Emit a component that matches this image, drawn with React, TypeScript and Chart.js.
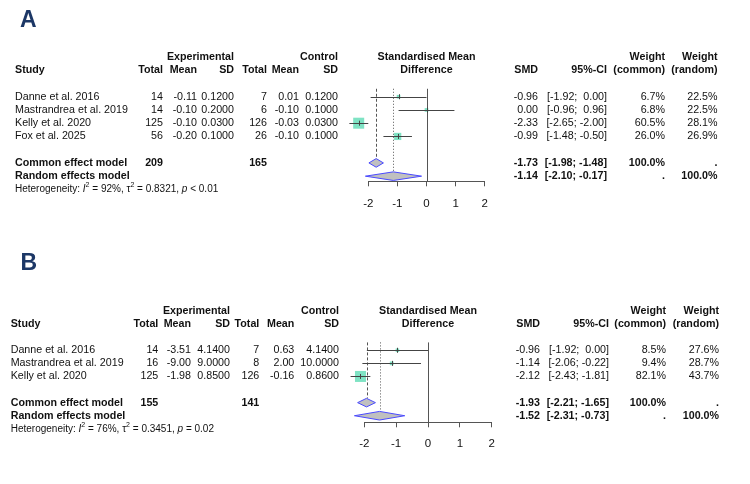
import React, { useEffect, useRef } from 'react';
import { Chart, registerables } from 'chart.js';
Chart.register(...registerables);

// ---------------- Panel A data ----------------
const studiesA = ['Danne et al. 2016', 'Mastrandrea et al. 2019', 'Kelly et al. 2020', 'Fox et al. 2025'];
const expTotalA = [14, 14, 125, 56];
const expMeanA = [-0.11, -0.10, -0.10, -0.20];
const expSDA = [0.12, 0.2, 0.03, 0.1];
const ctrlTotalA = [7, 6, 126, 26];
const ctrlMeanA = [0.01, -0.10, -0.03, -0.10];
const ctrlSDA = [0.12, 0.1, 0.03, 0.1];
const smdA = [-0.96, 0.00, -2.33, -0.99];
const loA = [-1.92, -0.96, -2.65, -1.48];
const hiA = [0.00, 0.96, -2.00, -0.50];
const wCommonA = [6.7, 6.8, 60.5, 26.0];
const wRandomA = [22.5, 22.5, 28.1, 26.9];
const totalsA = [209, 165];
const commonA = [-1.73, -1.98, -1.48];
const randomA = [-1.14, -2.10, -0.17];
const hetA = ['92%', '0.8321', '< 0.01'];

// ---------------- Panel B data ----------------
const studiesB = ['Danne et al. 2016', 'Mastrandrea et al. 2019', 'Kelly et al. 2020'];
const expTotalB = [14, 16, 125];
const expMeanB = [-3.51, -9.00, -1.98];
const expSDB = [4.14, 9.0, 0.85];
const ctrlTotalB = [7, 8, 126];
const ctrlMeanB = [0.63, 2.00, -0.16];
const ctrlSDB = [4.14, 10.0, 0.86];
const smdB = [-0.96, -1.14, -2.12];
const loB = [-1.92, -2.06, -2.43];
const hiB = [0.00, -0.22, -1.81];
const wCommonB = [8.5, 9.4, 82.1];
const wRandomB = [27.6, 28.7, 43.7];
const totalsB = [155, 141];
const commonB = [-1.93, -2.21, -1.65];
const randomB = [-1.52, -2.31, -0.73];
const hetB = ['76%', '0.3451', '= 0.02'];

// axis ticks
const xTicks = [-2, -1, 0, 1, 2];

const FONT = '"Liberation Sans", Arial, Helvetica, sans-serif';
const TXT = '#111';

type Panel = {
  label: string;
  studies: string[];
  expTotal: number[]; expMean: number[]; expSD: number[];
  ctrlTotal: number[]; ctrlMean: number[]; ctrlSD: number[];
  smd: number[]; lo: number[]; hi: number[];
  wCommon: number[]; wRandom: number[];
  totals: number[]; common: number[]; random: number[]; het: string[];
};

const panelA: Panel = {
  label: 'A', studies: studiesA, expTotal: expTotalA, expMean: expMeanA, expSD: expSDA,
  ctrlTotal: ctrlTotalA, ctrlMean: ctrlMeanA, ctrlSD: ctrlSDA, smd: smdA, lo: loA, hi: hiA,
  wCommon: wCommonA, wRandom: wRandomA, totals: totalsA, common: commonA, random: randomA, het: hetA,
};
const panelB: Panel = {
  label: 'B', studies: studiesB, expTotal: expTotalB, expMean: expMeanB, expSD: expSDB,
  ctrlTotal: ctrlTotalB, ctrlMean: ctrlMeanB, ctrlSD: ctrlSDB, smd: smdB, lo: loB, hi: hiB,
  wCommon: wCommonB, wRandom: wRandomB, totals: totalsB, common: commonB, random: randomB, het: hetB,
};

type Layout = {
  chartLeft: number; chartRight: number; L0: number; lineH: number; axisY: number;
  studyX: number; cols: number[]; smdX: number; ciX: number; wcX: number; wrX: number;
  labelX: number; labelY: number; tickPad: number;
};

const layoutA: Layout = {
  chartLeft: 368.3, chartRight: 484.7, L0: 57, lineH: 13.24, axisY: 181.3,
  studyX: 15, cols: [163, 197, 234, 267, 299, 338], smdX: 538, ciX: 607, wcX: 665, wrX: 717.5,
  labelX: 20, labelY: 20.5, tickPad: 10.5,
};
const layoutB: Layout = {
  chartLeft: 364.3, chartRight: 491.7, L0: 69, lineH: 13.09, axisY: 180.3,
  studyX: 10.7, cols: [158.3, 191, 230, 259.3, 294.3, 339], smdX: 540, ciX: 609, wcX: 666, wrX: 719,
  labelX: 20.5, labelY: 21.5, tickPad: 10,
};

const CANVAS_H = 242;
const fmt = (v: number, d: number) => v.toFixed(d);
const fmtCI = (lo: number, hi: number) =>
  '[' + fmt(lo, 2) + ';' + (hi >= 0 ? '  ' : ' ') + fmt(hi, 2) + ']';

function makeChart(canvas: HTMLCanvasElement, p: Panel, lay: Layout) {
  const topL = 2;
  const axisL = (lay.axisY - lay.L0) / lay.lineH;
  const topPx = lay.L0 + topL * lay.lineH;
  const axisH = 5 + 2 * lay.tickPad + 11.5 * 1.2;
  const n = p.studies.length;
  const commonL = 3 + n + 1;
  const randomL = commonL + 1;
  const hetL = randomL + 1;

  const plugin = {
    id: 'forest' + p.label,
    afterDraw(chart: any) {
      const ctx: CanvasRenderingContext2D = chart.ctx;
      const xs = chart.scales.x;
      const ys = chart.scales.y;
      const X = (v: number) => xs.getPixelForValue(v);
      const Y = (L: number) => ys.getPixelForValue(L);
      const crisp = (v: number) => Math.round(v) + 0.5;
      ctx.save();

      // panel letter
      ctx.fillStyle = '#1c3766';
      ctx.font = `bold 23px ${FONT}`;
      ctx.textBaseline = 'middle';
      ctx.textAlign = 'left';
      ctx.fillText(p.label, lay.labelX, lay.labelY);

      const txt = (s: string, x: number, L: number, align: CanvasTextAlign, bold = false) => {
        ctx.font = `${bold ? 'bold ' : ''}10.7px ${FONT}`;
        ctx.fillStyle = TXT;
        ctx.textAlign = align;
        ctx.textBaseline = 'middle';
        ctx.fillText(s, x, Y(L));
      };
      const c = lay.cols;
      // headers
      txt('Experimental', c[2], 0, 'right', true);
      txt('Control', c[5], 0, 'right', true);
      txt('Study', lay.studyX, 1, 'left', true);
      txt('Total', c[0], 1, 'right', true);
      txt('Mean', c[1], 1, 'right', true);
      txt('SD', c[2], 1, 'right', true);
      txt('Total', c[3], 1, 'right', true);
      txt('Mean', c[4], 1, 'right', true);
      txt('SD', c[5], 1, 'right', true);
      txt('Standardised Mean', X(0), 0, 'center', true);
      txt('Difference', X(0), 1, 'center', true);
      txt('SMD', lay.smdX, 1, 'right', true);
      txt('95%-CI', lay.ciX, 1, 'right', true);
      txt('Weight', lay.wcX, 0, 'right', true);
      txt('(common)', lay.wcX, 1, 'right', true);
      txt('Weight', lay.wrX, 0, 'right', true);
      txt('(random)', lay.wrX, 1, 'right', true);

      // study rows
      p.studies.forEach((s, i) => {
        const L = 3 + i;
        txt(s, lay.studyX, L, 'left');
        txt(String(p.expTotal[i]), c[0], L, 'right');
        txt(fmt(p.expMean[i], 2), c[1], L, 'right');
        txt(fmt(p.expSD[i], 4), c[2], L, 'right');
        txt(String(p.ctrlTotal[i]), c[3], L, 'right');
        txt(fmt(p.ctrlMean[i], 2), c[4], L, 'right');
        txt(fmt(p.ctrlSD[i], 4), c[5], L, 'right');
        txt(fmt(p.smd[i], 2), lay.smdX, L, 'right');
        txt(fmtCI(p.lo[i], p.hi[i]), lay.ciX, L, 'right');
        txt(fmt(p.wCommon[i], 1) + '%', lay.wcX, L, 'right');
        txt(fmt(p.wRandom[i], 1) + '%', lay.wrX, L, 'right');
      });
      // summary rows
      txt('Common effect model', lay.studyX, commonL, 'left', true);
      txt(String(p.totals[0]), c[0], commonL, 'right', true);
      txt(String(p.totals[1]), c[3], commonL, 'right', true);
      txt(fmt(p.common[0], 2), lay.smdX, commonL, 'right', true);
      txt(fmtCI(p.common[1], p.common[2]), lay.ciX, commonL, 'right', true);
      txt('100.0%', lay.wcX, commonL, 'right', true);
      txt('.', lay.wrX, commonL, 'right', true);
      txt('Random effects model', lay.studyX, randomL, 'left', true);
      txt(fmt(p.random[0], 2), lay.smdX, randomL, 'right', true);
      txt(fmtCI(p.random[1], p.random[2]), lay.ciX, randomL, 'right', true);
      txt('.', lay.wcX, randomL, 'right', true);
      txt('100.0%', lay.wrX, randomL, 'right', true);

      // heterogeneity line
      {
        const segs: { t: string; it?: boolean; sup?: boolean }[] = [
          { t: 'Heterogeneity: ' }, { t: 'I', it: true }, { t: '2', sup: true },
          { t: ' = ' + p.het[0] + ', \u03c4' }, { t: '2', sup: true },
          { t: ' = ' + p.het[1] + ', ' }, { t: 'p', it: true }, { t: ' ' + p.het[2] },
        ];
        let x = lay.studyX;
        const y = Y(hetL);
        ctx.textAlign = 'left';
        ctx.textBaseline = 'middle';
        ctx.fillStyle = TXT;
        segs.forEach((sg) => {
          const size = sg.sup ? 7 : 10;
          ctx.font = `${sg.it ? 'italic ' : ''}${size}px ${FONT}`;
          ctx.fillText(sg.t, x, sg.sup ? y - 4 : y);
          x += ctx.measureText(sg.t).width;
        });
      }

      // ---- forest marks ----
      const top = Y(2.4);
      const dh = 4.3;
      ctx.lineWidth = 1;
      ctx.strokeStyle = '#555';
      // line of no effect
      ctx.beginPath();
      ctx.moveTo(crisp(X(0)), top);
      ctx.lineTo(crisp(X(0)), Y(axisL));
      ctx.stroke();
      // common (dashed)
      ctx.setLineDash([3, 2]);
      ctx.beginPath();
      ctx.moveTo(crisp(X(p.common[0])), top);
      ctx.lineTo(crisp(X(p.common[0])), Y(commonL) - dh);
      ctx.stroke();
      // random (dotted)
      ctx.setLineDash([1, 2]);
      ctx.beginPath();
      ctx.moveTo(crisp(X(p.random[0])), top);
      ctx.lineTo(crisp(X(p.random[0])), Y(randomL) - dh);
      ctx.stroke();
      ctx.setLineDash([]);

      const wMax = Math.max(...p.wCommon);
      const maxSide = 11;
      p.studies.forEach((_, i) => {
        const yc = Y(3 + i);
        const xc = X(p.smd[i]);
        const side = Math.max(2.5, maxSide * Math.sqrt(p.wCommon[i] / wMax));
        ctx.fillStyle = '#7fe3c4';
        ctx.fillRect(xc - side / 2, yc - side / 2, side, side);
        ctx.strokeStyle = '#444';
        ctx.beginPath();
        ctx.moveTo(X(p.lo[i]), crisp(yc));
        ctx.lineTo(X(p.hi[i]), crisp(yc));
        ctx.stroke();
        ctx.beginPath();
        ctx.moveTo(crisp(xc), yc - 2.5);
        ctx.lineTo(crisp(xc), yc + 2.5);
        ctx.stroke();
      });

      const diamond = (est: number[], L: number) => {
        const yc = Y(L);
        ctx.beginPath();
        ctx.moveTo(X(est[1]), yc);
        ctx.lineTo(X(est[0]), yc - dh);
        ctx.lineTo(X(est[2]), yc);
        ctx.lineTo(X(est[0]), yc + dh);
        ctx.closePath();
        ctx.fillStyle = '#c0c0c0';
        ctx.fill();
        ctx.strokeStyle = '#4a4aff';
        ctx.stroke();
      };
      diamond(p.common, commonL);
      diamond(p.random, randomL);
      ctx.restore();
    },
  };

  return new Chart(canvas, {
    type: 'scatter',
    data: {
      datasets: [
        {
          data: p.smd.map((v, i) => ({ x: v, y: 3 + i })),
          pointRadius: 0,
          showLine: false,
        },
      ],
    },
    options: {
      responsive: false,
      animation: false,
      events: [],
      layout: {
        padding: {
          left: lay.chartLeft,
          right: 750 - lay.chartRight,
          top: topPx,
          bottom: CANVAS_H - lay.axisY - axisH,
        },
      },
      plugins: { legend: { display: false }, tooltip: { enabled: false } },
      scales: {
        x: {
          type: 'linear',
          min: xTicks[0],
          max: xTicks[xTicks.length - 1],
          afterBuildTicks: (axis: any) => {
            axis.ticks = xTicks.map((v) => ({ value: v }));
          },
          ticks: {
            padding: lay.tickPad,
            color: TXT,
            font: { family: FONT, size: 11.5 },
            maxRotation: 0,
            autoSkip: false,
            callback: (v: any) => String(v),
          },
          grid: { drawOnChartArea: false, drawTicks: true, tickLength: 5, color: '#555' },
          border: { display: true, color: '#555' },
        },
        y: { type: 'linear', display: false, min: topL, max: axisL, reverse: true },
      },
    },
    plugins: [plugin],
  } as any);
}

export default function App() {
  const refA = useRef<HTMLCanvasElement>(null);
  const refB = useRef<HTMLCanvasElement>(null);
  useEffect(() => {
    const a = makeChart(refA.current!, panelA, layoutA);
    const b = makeChart(refB.current!, panelB, layoutB);
    return () => {
      a.destroy();
      b.destroy();
    };
  }, []);
  return (
    <div style={{ position: 'absolute', left: 0, top: 0, width: 750, height: 484, background: '#fff' }}>
      <canvas ref={refA} width={750} height={CANVAS_H} style={{ display: 'block' }} />
      <canvas ref={refB} width={750} height={CANVAS_H} style={{ display: 'block' }} />
    </div>
  );
}
